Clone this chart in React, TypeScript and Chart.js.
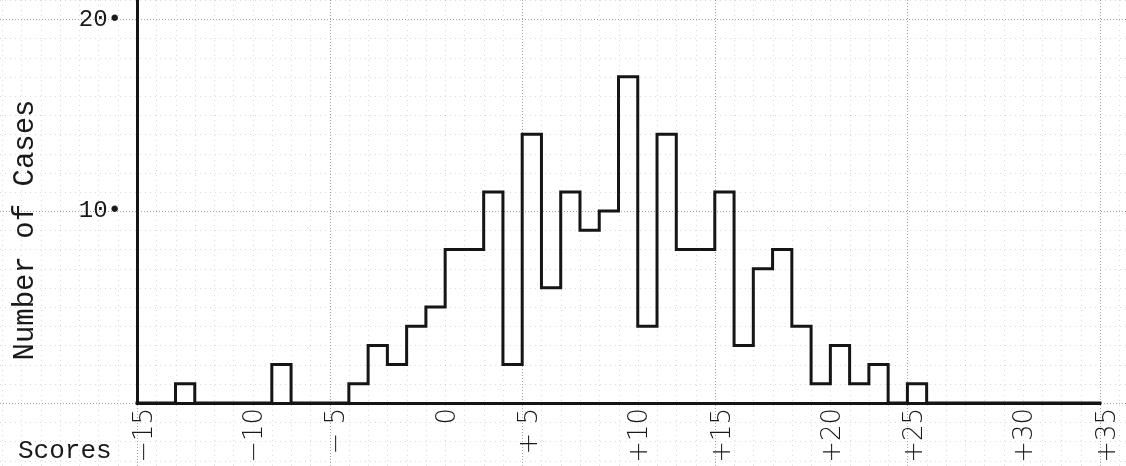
import { useEffect, useRef } from "react";
import { Chart, registerables } from "chart.js";

Chart.register(...registerables);

// Left edge of each one-point score interval, -15 .. 34
const scoreBinStarts = [
  -15, -14, -13, -12, -11, -10, -9, -8, -7, -6,
  -5, -4, -3, -2, -1, 0, 1, 2, 3, 4,
  5, 6, 7, 8, 9, 10, 11, 12, 13, 14,
  15, 16, 17, 18, 19, 20, 21, 22, 23, 24,
  25, 26, 27, 28, 29, 30, 31, 32, 33, 34,
];
// Number of cases in each interval
const caseCounts = [
  0, 0, 1, 0, 0, 0, 0, 2, 0, 0,
  0, 1, 3, 2, 4, 5, 8, 8, 11, 2,
  14, 6, 11, 9, 10, 17, 4, 14, 8, 8,
  11, 3, 7, 8, 4, 1, 3, 1, 2, 0,
  1, 0, 0, 0, 0, 0, 0, 0, 0, 0,
];

const scoreTickValues = [-15, -10, -5, 0, 5, 10, 15, 20, 25, 30, 35];
const scoreTickLabels = ["−15", "−10", "− 5", "0", "+ 5", "+10", "+15", "+20", "+25", "+30", "+35"];
const caseTickValues = [10, 20];

const xTitle = "Scores";
const yTitle = "Number of Cases";

const MONO = '"Liberation Mono", "DejaVu Sans Mono", monospace';
const HAND = '"DejaVu Sans", "Noto Sans", sans-serif';

const paperPlugin = {
  id: "paper",
  beforeDraw(chart: any) {
    const { ctx, width, height } = chart;
    const xs = chart.scales.x;
    const ys = chart.scales.y;
    ctx.save();
    ctx.fillStyle = "#ffffff";
    ctx.fillRect(0, 0, width, height);
    ctx.lineWidth = 1;
    const x0 = Math.floor(xs.getValueForPixel(0)) - 1;
    const x1 = Math.ceil(xs.getValueForPixel(width)) + 1;
    for (let v = x0; v <= x1; v++) {
      const px = Math.round(xs.getPixelForValue(v)) + 0.5;
      const major = (((v - xs.min) % 10) + 10) % 10 === 0;
      ctx.setLineDash(major ? [1, 2] : [1, 4]);
      ctx.strokeStyle = major ? "rgba(0,0,0,0.36)" : "rgba(0,0,0,0.15)";
      ctx.beginPath();
      ctx.moveTo(px, 0);
      ctx.lineTo(px, height);
      ctx.stroke();
    }
    const y0 = Math.floor(ys.getValueForPixel(height)) - 1;
    const y1 = Math.ceil(ys.getValueForPixel(0)) + 1;
    for (let v = y0; v <= y1; v++) {
      const py = Math.round(ys.getPixelForValue(v)) + 0.5;
      const major = ((v % 10) + 10) % 10 === 0;
      ctx.setLineDash(major ? [1, 2] : [1, 4]);
      ctx.strokeStyle = major ? "rgba(0,0,0,0.36)" : "rgba(0,0,0,0.15)";
      ctx.beginPath();
      ctx.moveTo(0, py);
      ctx.lineTo(width, py);
      ctx.stroke();
    }
    ctx.restore();
  },
  afterDraw(chart: any) {
    const { ctx } = chart;
    const xs = chart.scales.x;
    const area = chart.chartArea;
    ctx.save();
    ctx.fillStyle = "#1a1a1a";
    // hand-written score labels, rotated
    ctx.font = `300 26px ${HAND}`;
    ctx.textAlign = "right";
    ctx.textBaseline = "middle";
    scoreTickValues.forEach((v, i) => {
      const shift = ((v - xs.min) % 10 === 0) ? 8 : 22;
      const px = xs.getPixelForValue(v) + shift;
      ctx.save();
      ctx.translate(px, area.bottom + 5);
      ctx.rotate(-Math.PI / 2);
      ctx.fillText(scoreTickLabels[i], 0, 0);
      ctx.restore();
    });
    // typed axis titles
    ctx.font = `26px ${MONO}`;
    ctx.textAlign = "left";
    ctx.textBaseline = "alphabetic";
    ctx.fillText(xTitle, 18, 458);
    ctx.font = `29px ${MONO}`;
    ctx.textAlign = "center";
    ctx.save();
    ctx.translate(33, 230);
    ctx.rotate(-Math.PI / 2);
    ctx.fillText(yTitle, 0, 0);
    ctx.restore();
    ctx.restore();
  },
};

export default function App() {
  const canvasRef = useRef<HTMLCanvasElement | null>(null);

  useEffect(() => {
    if (!canvasRef.current) return;
    const lastEdge = scoreBinStarts[scoreBinStarts.length - 1] + 1;
    const points = scoreBinStarts.map((x, i) => ({ x, y: caseCounts[i] }));
    points.push({ x: lastEdge, y: 0 });

    const chart = new Chart(canvasRef.current, {
      type: "line",
      data: {
        datasets: [
          {
            data: points,
            stepped: true,
            borderColor: "#151515",
            borderWidth: 3,
            pointRadius: 0,
            fill: false,
            clip: false,
            borderJoinStyle: "miter",
            borderCapStyle: "square",
          } as any,
        ],
      },
      options: {
        animation: false,
        responsive: true,
        maintainAspectRatio: false,
        devicePixelRatio: 1,
        layout: { padding: { left: 0, right: 26, top: 0, bottom: 0 } },
        plugins: { legend: { display: false }, tooltip: { enabled: false } },
        scales: {
          x: {
            type: "linear",
            min: scoreTickValues[0],
            max: scoreTickValues[scoreTickValues.length - 1],
            grid: { display: false, drawTicks: false },
            border: { display: true, width: 3, color: "#151515" },
            ticks: { display: false },
            afterFit(scale: any) {
              scale.height = 63;
              scale.paddingLeft = 0;
              scale.paddingRight = 0;
            },
          },
          y: {
            type: "linear",
            min: 0,
            max: 21,
            grid: { display: false, drawTicks: false },
            border: { display: true, width: 3, color: "#151515" },
            afterBuildTicks(scale: any) {
              scale.ticks = caseTickValues.map((value) => ({ value }));
            },
            ticks: {
              padding: 15,
              color: "#1a1a1a",
              font: { family: MONO, size: 24 },
              callback: (v: any) => `${v}•`,
            },
            afterFit(scale: any) {
              scale.width = 137;
              scale.paddingTop = 0;
              scale.paddingBottom = 0;
            },
          },
        },
      },
      plugins: [paperPlugin],
    });
    return () => chart.destroy();
  }, []);

  return (
    <div style={{ position: "fixed", left: 0, top: 0, width: 1126, height: 466, background: "#fff" }}>
      <canvas ref={canvasRef} />
    </div>
  );
}
